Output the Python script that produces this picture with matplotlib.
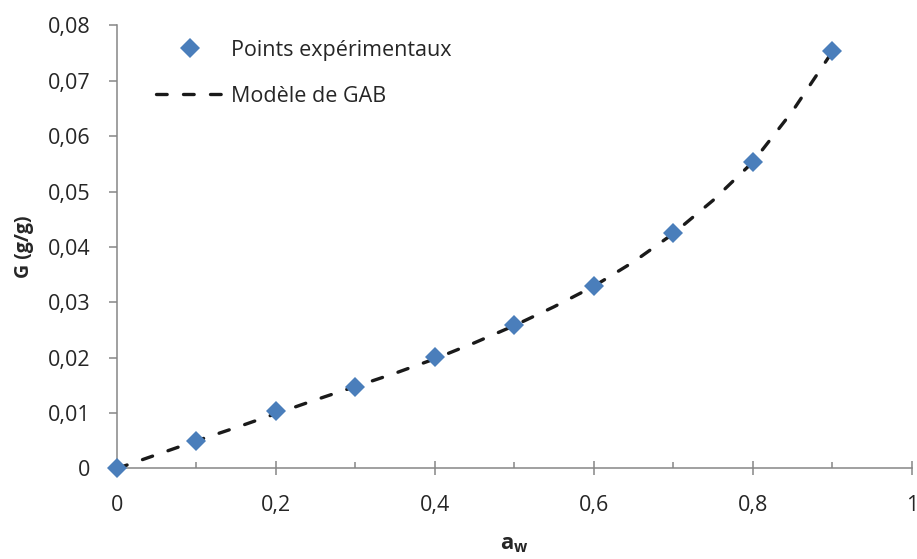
import numpy as np
import matplotlib
matplotlib.use('Agg')
import matplotlib.pyplot as plt
from matplotlib.ticker import FuncFormatter, MultipleLocator

plt.rcParams['font.family'] = 'Open Sans'
plt.rcParams['mathtext.fontset'] = 'custom'
plt.rcParams['mathtext.rm'] = 'Open Sans'
plt.rcParams['mathtext.bf'] = 'Open Sans:bold'

## experimental points
aw_exp = [0.0, 0.1, 0.2, 0.3, 0.4, 0.5, 0.6, 0.7, 0.8, 0.9]
g_exp = [0.0, 0.0050, 0.0103, 0.0148, 0.0202, 0.0259, 0.0329, 0.0426, 0.0553, 0.0753]

## GAB model curve
aw_gab = [0.0, 0.05, 0.1, 0.15, 0.2, 0.25, 0.3, 0.35, 0.4, 0.45,
          0.5, 0.55, 0.6, 0.65, 0.7, 0.75, 0.8, 0.85, 0.9]
g_gab = [0.0, 0.0025, 0.0050, 0.0074, 0.0099, 0.0124, 0.0148, 0.0172, 0.0198, 0.0227,
         0.0258, 0.0292, 0.0329, 0.0373, 0.0424, 0.0484, 0.0553, 0.0645, 0.0752]

axis_col = '#868686'
text_col = '#262626'

def comma_fmt(v, pos):
    if abs(v) < 1e-12:
        return '0'
    s = ('%.2f' % v).rstrip('0').rstrip('.')
    return s.replace('.', ',')

fig = plt.figure(figsize=(9.17, 5.59), dpi=100)
ax = fig.add_axes([0.1276, 0.1619, 0.8666, 0.7928])

ax.plot(aw_gab, g_gab, color='#1a1a1a', lw=2.4, dashes=(3.2, 4.9),
        dash_capstyle='round', label='Modèle de GAB', zorder=2)
ax.plot(aw_exp, g_exp, ls='none', marker='D', ms=10, color='#4a7ebb',
        mew=0, label='Points expérimentaux', zorder=3, clip_on=False)

ax.set_xlim(0, 1)
ax.set_ylim(0, 0.08)
ax.xaxis.set_major_locator(MultipleLocator(0.2))
ax.xaxis.set_minor_locator(MultipleLocator(0.1))
ax.yaxis.set_major_locator(MultipleLocator(0.01))
ax.xaxis.set_major_formatter(FuncFormatter(comma_fmt))
ax.yaxis.set_major_formatter(FuncFormatter(comma_fmt))

for side in ['top', 'right']:
    ax.spines[side].set_visible(False)
for side in ['left', 'bottom']:
    ax.spines[side].set_color(axis_col)
    ax.spines[side].set_linewidth(1.1)
    ax.spines[side].set_zorder(1)

ax.tick_params(axis='x', which='major', direction='inout', length=10, width=1.1,
               color=axis_col, labelsize=15.5, pad=14, labelcolor=text_col)
ax.tick_params(axis='x', which='minor', direction='in', length=4.5, width=1.1,
               color=axis_col)
ax.tick_params(axis='y', which='major', direction='out', length=6, width=1.1,
               color=axis_col, labelsize=15.5, pad=13, labelcolor=text_col)

ax.set_ylabel('G (g/g)', fontsize=14, fontweight='bold', labelpad=10, color=text_col)
ax.set_xlabel(r'$\mathbf{a_w}$', fontsize=16, labelpad=13, color=text_col)

handles, labels = ax.get_legend_handles_labels()
leg = ax.legend(handles[::-1], labels[::-1], loc='upper left',
                bbox_to_anchor=(145 / 917, 1 - 29 / 559), bbox_transform=fig.transFigure,
                frameon=False, fontsize=15.5, handlelength=3.2, labelspacing=1.15,
                handletextpad=0.3, borderpad=0)
for t in leg.get_texts():
    t.set_color(text_col)

fig.savefig('out.png', dpi=100)
